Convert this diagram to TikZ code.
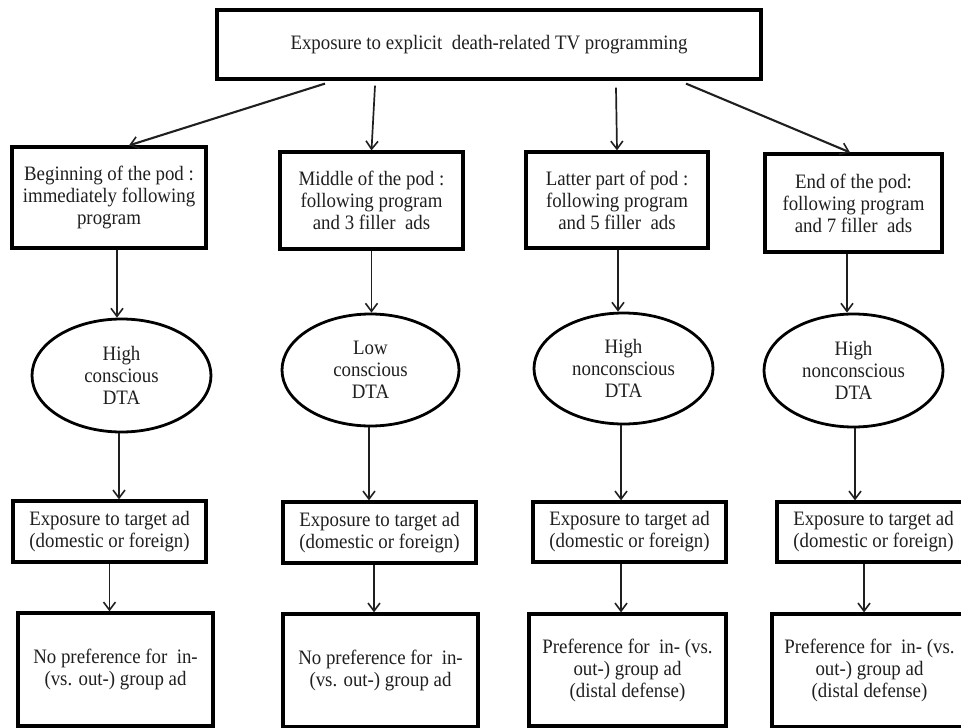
\documentclass[tikz,border=0pt]{standalone}
\usepackage{fontspec}
\setmainfont{Liberation Serif}[FakeStretch=0.92]
\usetikzlibrary{arrows.meta,shapes.geometric}
\definecolor{ink}{rgb}{0.12,0.12,0.12}
\begin{document}
\begin{tikzpicture}[x=1pt,y=-1pt,
  every node/.style={text=ink,font=\fontsize{20.5}{22}\selectfont,align=center,inner sep=0pt},
  boxnode/.style={draw=black,line width=3.2pt,rectangle},
  ovalnode/.style={draw=black,line width=2.8pt,ellipse},
  arr/.style={draw=ink,line width=1.7pt,-{Straight Barb[length=8pt,width=12pt,line width=1.6pt]}},
  slant/.style={arr,line width=2.1pt}]
\useasboundingbox (0,0) rectangle (961,728);
% top
\node[boxnode,minimum width=544pt,minimum height=69pt] (top) at (489,44.5) {Exposure to explicit\ \ death-related TV programming};
% row A
\node[boxnode,minimum width=194pt,minimum height=101pt] (A1) at (109,197.5) {Beginning of the pod :\\immediately following\\program};
\node[boxnode,minimum width=183pt,minimum height=97pt] (A2) at (371.5,200.5) {Middle of the pod :\\following program\\and 3 filler\ \ ads};
\node[boxnode,minimum width=182pt,minimum height=96pt] (A3) at (617,200) {Latter part of pod :\\following program\\and 5 filler\ \ ads};
\node[boxnode,minimum width=177pt,minimum height=98pt] (A4) at (853.5,203) {End of the pod:\\following program\\and 7 filler\ \ ads};
% ellipses
\node[ovalnode,minimum width=179pt,minimum height=113pt] (E1) at (121.5,375.5) {High\\conscious\\DTA};
\node[ovalnode,minimum width=177pt,minimum height=112pt] (E2) at (370.5,370) {Low\\conscious\\DTA};
\node[ovalnode,minimum width=179pt,minimum height=111pt] (E3) at (623.5,368.5) {High\\nonconscious\\DTA};
\node[ovalnode,minimum width=179pt,minimum height=113pt] (E4) at (853.5,370.5) {High\\nonconscious\\DTA};
% row B
\node[boxnode,minimum width=193pt,minimum height=61pt] (B1) at (109.5,531.5) {Exposure to target\ ad\\(domestic or foreign)};
\node[boxnode,minimum width=193pt,minimum height=61pt] (B2) at (379.5,532.5) {Exposure to target\ ad\\(domestic or foreign)};
\node[boxnode,minimum width=193pt,minimum height=60pt] (B3) at (629.5,532) {Exposure to target\ ad\\(domestic or foreign)};
\node[boxnode,minimum width=193pt,minimum height=60pt] (B4) at (873.5,532) {Exposure to target\ ad\\(domestic or foreign)};
% row C
\node[boxnode,minimum width=195pt,minimum height=113pt] (C1) at (115.5,669.5) {No preference for\ \ in-\\(vs. out-) group ad};
\node[boxnode,minimum width=195pt,minimum height=113pt] (C2) at (380.5,670.5) {No preference for\ \ in-\\(vs. out-) group ad};
\node[boxnode,minimum width=197pt,minimum height=112pt] (C3) at (627.5,670) {Preference for\ \ in- (vs.\\out-) group ad\\(distal defense)};
\node[boxnode,minimum width=195pt,minimum height=113pt] (C4) at (869.5,670.5) {Preference for\ \ in- (vs.\\out-) group ad\\(distal defense)};
% top arrows
\draw[slant] ([shift={(-164,3)}]top.south) -- ([xshift=20pt]A1.north);
\draw[arr] ([shift={(-114,5)}]top.south) -- (A2.north);
\draw[arr] ([shift={(127,7)}]top.south) -- (A3.north);
\draw[slant] ([shift={(197,3)}]top.south) -- ([xshift=-3.5pt]A4.north);
% A -> E
\draw[arr] ([xshift=8pt]A1.south) -- ([xshift=8pt]A1.south |- E1.north);
\draw[arr] (A2.south) -- (A2.south |- E2.north);
\draw[arr] ([xshift=1pt]A3.south) -- ([xshift=1pt]A3.south |- E3.north);
\draw[arr] ([xshift=-6.5pt]A4.south) -- ([xshift=-6.5pt]A4.south |- E4.north);
% E -> B
\draw[arr] ([xshift=-2.5pt]E1.south) -- ([xshift=-2.5pt]E1.south |- B1.north);
\draw[arr] ([xshift=-1.5pt]E2.south) -- ([xshift=-1.5pt]E2.south |- B2.north);
\draw[arr] ([xshift=-2.5pt]E3.south) -- ([xshift=-2.5pt]E3.south |- B3.north);
\draw[arr] ([xshift=1.5pt]E4.south) -- ([xshift=1.5pt]E4.south |- B4.north);
% B -> C
\draw[arr] (B1.south) -- (B1.south |- C1.north);
\draw[arr] ([xshift=-5.5pt]B2.south) -- ([xshift=-5.5pt]B2.south |- C2.north);
\draw[arr] ([xshift=-8.5pt]B3.south) -- ([xshift=-8.5pt]B3.south |- C3.north);
\draw[arr] ([xshift=-9.5pt]B4.south) -- ([xshift=-9.5pt]B4.south |- C4.north);
\end{tikzpicture}
\end{document}
